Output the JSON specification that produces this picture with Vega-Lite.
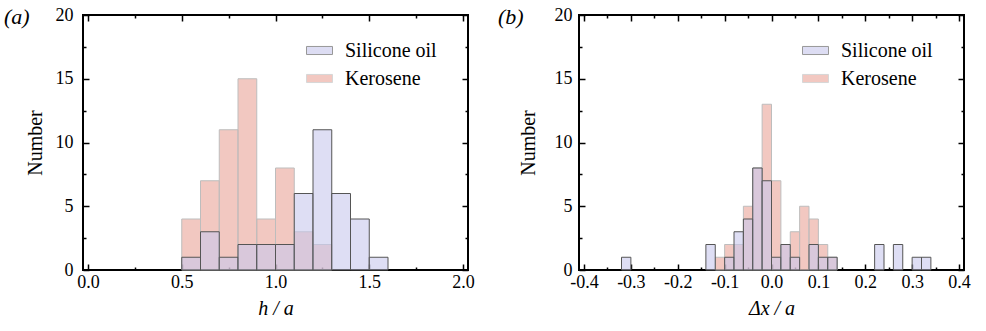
{
  "$schema": "https://vega.github.io/schema/vega-lite/v6.json",
  "padding": {"left": 3, "top": 5, "right": 5, "bottom": 5},
  "datasets": {
    "h": [
      {"fluid": "Silicone oil", "lo": 0.5, "hi": 0.6, "n": 1},
      {"fluid": "Silicone oil", "lo": 0.6, "hi": 0.7, "n": 3},
      {"fluid": "Silicone oil", "lo": 0.7, "hi": 0.8, "n": 1},
      {"fluid": "Silicone oil", "lo": 0.8, "hi": 0.9, "n": 2},
      {"fluid": "Silicone oil", "lo": 0.9, "hi": 1.0, "n": 2},
      {"fluid": "Silicone oil", "lo": 1.0, "hi": 1.1, "n": 2},
      {"fluid": "Silicone oil", "lo": 1.1, "hi": 1.2, "n": 6},
      {"fluid": "Silicone oil", "lo": 1.2, "hi": 1.3, "n": 11},
      {"fluid": "Silicone oil", "lo": 1.3, "hi": 1.4, "n": 6},
      {"fluid": "Silicone oil", "lo": 1.4, "hi": 1.5, "n": 4},
      {"fluid": "Silicone oil", "lo": 1.5, "hi": 1.6, "n": 1},
      {"fluid": "Kerosene", "lo": 0.5, "hi": 0.6, "n": 4},
      {"fluid": "Kerosene", "lo": 0.6, "hi": 0.7, "n": 7},
      {"fluid": "Kerosene", "lo": 0.7, "hi": 0.8, "n": 11},
      {"fluid": "Kerosene", "lo": 0.8, "hi": 0.9, "n": 15},
      {"fluid": "Kerosene", "lo": 0.9, "hi": 1.0, "n": 4},
      {"fluid": "Kerosene", "lo": 1.0, "hi": 1.1, "n": 8},
      {"fluid": "Kerosene", "lo": 1.1, "hi": 1.2, "n": 3},
      {"fluid": "Kerosene", "lo": 1.2, "hi": 1.3, "n": 2}
    ],
    "dx": [
      {"fluid": "Silicone oil", "lo": -0.32, "hi": -0.30, "n": 1},
      {"fluid": "Silicone oil", "lo": -0.14, "hi": -0.12, "n": 2},
      {"fluid": "Silicone oil", "lo": -0.10, "hi": -0.08, "n": 1},
      {"fluid": "Silicone oil", "lo": -0.08, "hi": -0.06, "n": 3},
      {"fluid": "Silicone oil", "lo": -0.06, "hi": -0.04, "n": 4},
      {"fluid": "Silicone oil", "lo": -0.04, "hi": -0.02, "n": 8},
      {"fluid": "Silicone oil", "lo": -0.02, "hi": 0.00, "n": 7},
      {"fluid": "Silicone oil", "lo": 0.00, "hi": 0.02, "n": 1},
      {"fluid": "Silicone oil", "lo": 0.02, "hi": 0.04, "n": 2},
      {"fluid": "Silicone oil", "lo": 0.04, "hi": 0.06, "n": 1},
      {"fluid": "Silicone oil", "lo": 0.08, "hi": 0.10, "n": 2},
      {"fluid": "Silicone oil", "lo": 0.10, "hi": 0.12, "n": 1},
      {"fluid": "Silicone oil", "lo": 0.12, "hi": 0.14, "n": 1},
      {"fluid": "Silicone oil", "lo": 0.22, "hi": 0.24, "n": 2},
      {"fluid": "Silicone oil", "lo": 0.26, "hi": 0.28, "n": 2},
      {"fluid": "Silicone oil", "lo": 0.30, "hi": 0.32, "n": 1},
      {"fluid": "Silicone oil", "lo": 0.32, "hi": 0.34, "n": 1},
      {"fluid": "Kerosene", "lo": -0.12, "hi": -0.10, "n": 1},
      {"fluid": "Kerosene", "lo": -0.10, "hi": -0.08, "n": 2},
      {"fluid": "Kerosene", "lo": -0.08, "hi": -0.06, "n": 2},
      {"fluid": "Kerosene", "lo": -0.06, "hi": -0.04, "n": 5},
      {"fluid": "Kerosene", "lo": -0.04, "hi": -0.02, "n": 8},
      {"fluid": "Kerosene", "lo": -0.02, "hi": 0.00, "n": 13},
      {"fluid": "Kerosene", "lo": 0.00, "hi": 0.02, "n": 7},
      {"fluid": "Kerosene", "lo": 0.02, "hi": 0.04, "n": 2},
      {"fluid": "Kerosene", "lo": 0.04, "hi": 0.06, "n": 3},
      {"fluid": "Kerosene", "lo": 0.06, "hi": 0.08, "n": 5},
      {"fluid": "Kerosene", "lo": 0.08, "hi": 0.10, "n": 4},
      {"fluid": "Kerosene", "lo": 0.10, "hi": 0.12, "n": 2},
      {"fluid": "Kerosene", "lo": 0.12, "hi": 0.14, "n": 1}
    ]
  },
  "hconcat": [
    {
      "width": 385,
      "height": 255,
      "title": {"text": "(a)", "anchor": "start", "frame": "bounds", "font": "Liberation Serif", "fontSize": 22, "fontStyle": "italic", "fontWeight": "normal", "offset": -23, "dx": -21},
      "data": {"name": "h"},
      "layer": [
        {
          "transform": [{"filter": "datum.fluid === 'Kerosene'"}],
          "mark": {"type": "bar", "orient": "vertical", "fillOpacity": 0.6, "strokeWidth": 1},
          "encoding": {
            "x": {"field": "lo", "type": "quantitative", "title": "h / a",
              "scale": {"domain": [0, 2], "nice": false, "zero": false},
              "axis": {"orient": "bottom", "values": [0, 0.25, 0.5, 0.75, 1, 1.25, 1.5, 1.75, 2],
                "labelExpr": "round(datum.value*4)%2==0 ? format(datum.value, '.1f') : ''",
                "tickSize": {"condition": {"test": "round(datum.value*4)%2==0", "value": -6}, "value": -3},
                "labelPadding": 9, "titlePadding": 7, "titleFontStyle": "italic"}},
            "x2": {"field": "hi"},
            "y": {"field": "n", "type": "quantitative", "title": "Number",
              "scale": {"domain": [0, 20], "nice": false},
              "axis": {"orient": "left", "values": [0, 2.5, 5, 7.5, 10, 12.5, 15, 17.5, 20],
                "labelExpr": "datum.value % 5 == 0 ? datum.label : ''",
                "tickSize": {"condition": {"test": "datum.value % 5 == 0", "value": -6}, "value": -3},
                "labelPadding": 16, "titlePadding": 10}},
            "y2": {"datum": 0},
            "fill": {"field": "fluid", "type": "nominal",
              "scale": {"domain": ["Silicone oil", "Kerosene"], "range": ["#c8c8ec", "#eaa498"]},
              "legend": {"title": null, "orient": "none", "legendX": 223, "legendY": 22}},
            "stroke": {"field": "fluid", "type": "nominal",
              "scale": {"domain": ["Silicone oil", "Kerosene"], "range": ["#555555", "#bdbdbd"]},
              "legend": {"title": null, "orient": "none", "legendX": 223, "legendY": 22}}
          }
        },
        {
          "transform": [{"filter": "datum.fluid === 'Silicone oil'"}],
          "mark": {"type": "bar", "orient": "vertical", "fillOpacity": 0.6, "strokeWidth": 1},
          "encoding": {
            "x": {"field": "lo", "type": "quantitative", "title": null,
              "scale": {"domain": [0, 2], "nice": false, "zero": false},
              "axis": {"orient": "top", "values": [0, 0.25, 0.5, 0.75, 1, 1.25, 1.5, 1.75, 2], "labels": false,
                "tickSize": {"condition": {"test": "round(datum.value*4)%2==0", "value": -6}, "value": -3}}},
            "x2": {"field": "hi"},
            "y": {"field": "n", "type": "quantitative", "title": null,
              "scale": {"domain": [0, 20], "nice": false},
              "axis": {"orient": "right", "values": [0, 2.5, 5, 7.5, 10, 12.5, 15, 17.5, 20], "labels": false,
                "tickSize": {"condition": {"test": "datum.value % 5 == 0", "value": -6}, "value": -3}}},
            "y2": {"datum": 0},
            "fill": {"field": "fluid", "type": "nominal",
              "scale": {"domain": ["Silicone oil", "Kerosene"], "range": ["#c8c8ec", "#eaa498"]},
              "legend": {"title": null, "orient": "none", "legendX": 223, "legendY": 22}},
            "stroke": {"field": "fluid", "type": "nominal",
              "scale": {"domain": ["Silicone oil", "Kerosene"], "range": ["#555555", "#bdbdbd"]},
              "legend": {"title": null, "orient": "none", "legendX": 223, "legendY": 22}}
          }
        }
      ],
      "resolve": {"axis": {"x": "independent", "y": "independent"}}
    },
    {
      "width": 385,
      "height": 255,
      "title": {"text": "(b)", "anchor": "start", "frame": "bounds", "font": "Liberation Serif", "fontSize": 22, "fontStyle": "italic", "fontWeight": "normal", "offset": -23, "dx": -20},
      "data": {"name": "dx"},
      "layer": [
        {
          "transform": [{"filter": "datum.fluid === 'Kerosene'"}],
          "mark": {"type": "bar", "orient": "vertical", "fillOpacity": 0.6, "strokeWidth": 1},
          "encoding": {
            "x": {"field": "lo", "type": "quantitative", "title": "Δx / a",
              "scale": {"domain": [-0.4, 0.4], "nice": false, "zero": false},
              "axis": {"orient": "bottom", "values": [-0.4, -0.35, -0.3, -0.25, -0.2, -0.15, -0.1, -0.05, 0, 0.05, 0.1, 0.15, 0.2, 0.25, 0.3, 0.35, 0.4],
                "labelExpr": "round(datum.value*20)%2==0 ? (datum.value < -0.001 ? '-' : '') + format(abs(datum.value), '.1f') : ''",
                "tickSize": {"condition": {"test": "round(datum.value*20)%2==0", "value": -6}, "value": -3},
                "labelPadding": 9, "titlePadding": 7, "titleFontStyle": "italic"}},
            "x2": {"field": "hi"},
            "y": {"field": "n", "type": "quantitative", "title": "Number",
              "scale": {"domain": [0, 20], "nice": false},
              "axis": {"orient": "left", "values": [0, 2.5, 5, 7.5, 10, 12.5, 15, 17.5, 20],
                "labelExpr": "datum.value % 5 == 0 ? datum.label : ''",
                "tickSize": {"condition": {"test": "datum.value % 5 == 0", "value": -6}, "value": -3},
                "labelPadding": 13, "titlePadding": 16}},
            "y2": {"datum": 0},
            "fill": {"field": "fluid", "type": "nominal",
              "scale": {"domain": ["Silicone oil", "Kerosene"], "range": ["#c8c8ec", "#eaa498"]},
              "legend": {"title": null, "orient": "none", "legendX": 223, "legendY": 22}},
            "stroke": {"field": "fluid", "type": "nominal",
              "scale": {"domain": ["Silicone oil", "Kerosene"], "range": ["#555555", "#bdbdbd"]},
              "legend": {"title": null, "orient": "none", "legendX": 223, "legendY": 22}}
          }
        },
        {
          "transform": [{"filter": "datum.fluid === 'Silicone oil'"}],
          "mark": {"type": "bar", "orient": "vertical", "fillOpacity": 0.6, "strokeWidth": 1},
          "encoding": {
            "x": {"field": "lo", "type": "quantitative", "title": null,
              "scale": {"domain": [-0.4, 0.4], "nice": false, "zero": false},
              "axis": {"orient": "top", "values": [-0.4, -0.35, -0.3, -0.25, -0.2, -0.15, -0.1, -0.05, 0, 0.05, 0.1, 0.15, 0.2, 0.25, 0.3, 0.35, 0.4], "labels": false,
                "tickSize": {"condition": {"test": "round(datum.value*20)%2==0", "value": -6}, "value": -3}}},
            "x2": {"field": "hi"},
            "y": {"field": "n", "type": "quantitative", "title": null,
              "scale": {"domain": [0, 20], "nice": false},
              "axis": {"orient": "right", "values": [0, 2.5, 5, 7.5, 10, 12.5, 15, 17.5, 20], "labels": false,
                "tickSize": {"condition": {"test": "datum.value % 5 == 0", "value": -6}, "value": -3}}},
            "y2": {"datum": 0},
            "fill": {"field": "fluid", "type": "nominal",
              "scale": {"domain": ["Silicone oil", "Kerosene"], "range": ["#c8c8ec", "#eaa498"]},
              "legend": {"title": null, "orient": "none", "legendX": 223, "legendY": 22}},
            "stroke": {"field": "fluid", "type": "nominal",
              "scale": {"domain": ["Silicone oil", "Kerosene"], "range": ["#555555", "#bdbdbd"]},
              "legend": {"title": null, "orient": "none", "legendX": 223, "legendY": 22}}
          }
        }
      ],
      "resolve": {"axis": {"x": "independent", "y": "independent"}}
    }
  ],
  "spacing": 21,
  "resolve": {
    "scale": {"x": "independent", "fill": "independent", "stroke": "independent"},
    "legend": {"fill": "independent", "stroke": "independent"}
  },
  "config": {
    "font": "Liberation Serif",
    "view": {"stroke": "black", "strokeWidth": 2},
    "axis": {
      "domain": false, "grid": false,
      "labelFont": "Liberation Serif", "labelFontSize": 18, "labelColor": "black",
      "titleFont": "Liberation Serif", "titleFontSize": 20, "titleFontWeight": "normal", "titleColor": "black",
      "tickColor": "black", "tickWidth": 1.5
    },
    "legend": {
      "labelFont": "Liberation Serif", "labelFontSize": 20, "labelColor": "black",
      "symbolType": "M-1,-0.31H1V0.31H-1Z", "symbolSize": 676, "symbolStrokeWidth": 1,
      "symbolOpacity": 0.6, "rowPadding": 4, "labelOffset": 12
    }
  }
}
